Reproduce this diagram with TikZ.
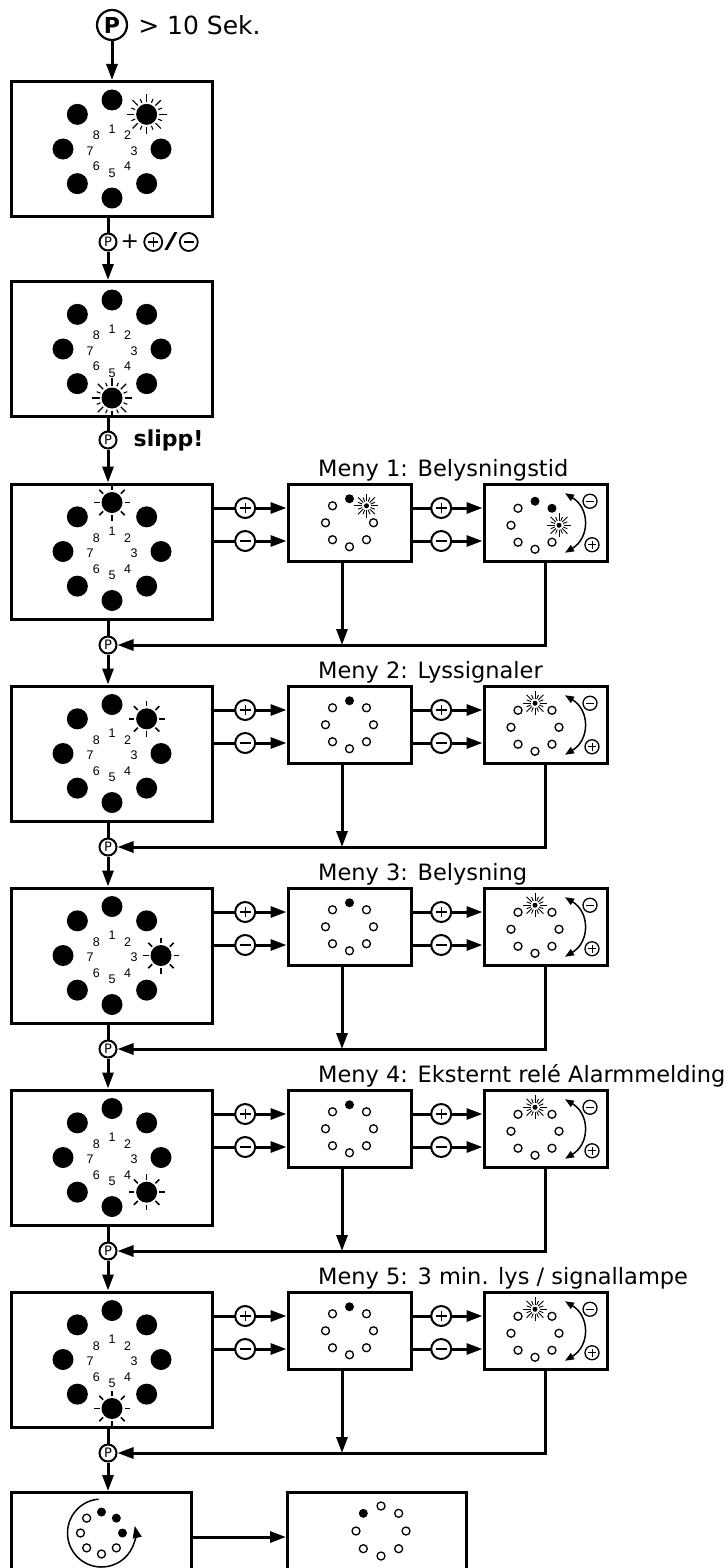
\documentclass[tikz,border=0pt]{standalone}
\usepackage{fontspec}
\setmainfont{DejaVu Sans}
\newfontfamily\digitfont{Liberation Sans}
\usepackage{graphicx}
\usetikzlibrary{arrows.meta,positioning,calc}

\tikzset{
  litray/.style={line width=1.6pt},
  blinkray/.style={line width=1.1pt},
  smallray/.style={line width=0.9pt},
  dialnum/.style={font=\digitfont\fontsize{12.5}{12.5}\selectfont, inner sep=0pt},
}

% stor skive: senter, lysende diode, 0 = lyser / 1 = blinker
\newcommand{\bigdial}[3]{%
  \foreach \i in {1,...,8}{
    \fill ($(#1)+({90-45*(\i-1)}:49pt)$) circle (10.5pt);
    \node[dialnum] (#1n\i) at ($(#1)+({90-45*(\i-1)}:22pt)+(0,-2pt)$) {\i};
  }
  \coordinate (sun) at ($(#1)+({90-45*(#2-1)}:49pt)$);
  \ifnum#3=0
    \foreach \a in {0,45,...,315}
      \draw[litray] ($(sun)+(\a:12.5pt)$) -- ($(sun)+(\a:18pt)$);
  \else
    \foreach \a in {0,45,...,315}
      \draw[blinkray] ($(sun)+(\a:12.5pt)$) -- ($(sun)+(\a:20pt)$);
    \foreach \a in {22.5,67.5,...,337.5}
      \draw[blinkray] ($(sun)+(\a:12.5pt)$) -- ($(sun)+(\a:16.5pt)$);
  \fi
}

% liten ring: radius, senter, liste pos/type (0 av, 1 paa, 2 blinker)
\newcommand{\smallring}[3][24pt]{%
  \foreach \i/\kind in {#3}{
    \coordinate (dot) at ($(#2)+({90-45*(\i-1)}:#1)$);
    \ifcase\kind\relax
      \draw[line width=1.3pt] (dot) circle (4pt);
    \or
      \fill (dot) circle (4.5pt);
    \or
      \fill (dot) circle (2.5pt);
      \foreach \a in {0,45,...,315}
        \draw[smallray] ($(dot)+(\a:4.5pt)$) -- ($(dot)+(\a:12pt)$);
      \foreach \a in {22.5,67.5,...,337.5}
        \draw[smallray] ($(dot)+(\a:4.5pt)$) -- ($(dot)+(\a:9pt)$);
    \fi
  }%
}

\begin{document}
\begin{tikzpicture}[
    x=1pt, y=-1pt,
    >={Triangle[length=16pt,width=11pt]},
    bigbox/.style={draw, line width=3pt, minimum width=201pt, minimum height=135pt, inner sep=0pt},
    smallbox/.style={draw, line width=3pt, minimum width=123pt, minimum height=77pt, inner sep=0pt},
    endbox/.style={draw, line width=3pt, minimum width=180pt, minimum height=89pt, inner sep=0pt},
    conn/.style={->, line width=3pt},
    pbtn/.style={circle, draw, fill=white, line width=2pt, minimum size=17pt, inner sep=0pt, font=\fontsize{13}{13}\selectfont},
    signbtn/.style={circle, draw, fill=white, line width=2pt, minimum size=#1, inner sep=0pt},
    signbtn/.default=20pt,
    plusbtn/.style={signbtn=#1, path picture={
        \draw[-, line width=0.065*#1]
          ([xshift=-0.27*#1]path picture bounding box.center) -- ([xshift=0.27*#1]path picture bounding box.center)
          ([yshift=-0.27*#1]path picture bounding box.center) -- ([yshift=0.27*#1]path picture bounding box.center);}},
    plusbtn/.default=20pt,
    minusbtn/.style={signbtn=#1, path picture={
        \draw[-, line width=0.065*#1]
          ([xshift=-0.27*#1]path picture bounding box.center) -- ([xshift=0.27*#1]path picture bounding box.center);}},
    minusbtn/.default=20pt,
    menylabel/.style={anchor=base west, inner sep=0pt, font=\fontsize{22.5}{27}\selectfont},
    swing/.style={{Triangle[length=9pt,width=7pt]}-{Triangle[length=9pt,width=7pt]}, line width=1.5pt},
  ]
  \path[fill=white, use as bounding box] (0,0) rectangle (726,1568);

  % Start
  \node[pbtn, minimum size=30pt, line width=2.2pt, font=\bfseries\fontsize{22}{22}\selectfont] (p0) at (112,25) {P};
  \node[right=10pt of p0, inner sep=0pt, font=\fontsize{25}{25}\selectfont] (sek) {> 10 Sek.};

  \node[bigbox] (a) at (112,149) {};
  \bigdial{a}{2}{1}
  \draw[conn] (p0) -- (p0 |- a.north);

  \node[pbtn] (pa) at (108,242) {P};
  \node[right=3pt of pa, inner sep=0pt, font=\fontsize{22}{22}\selectfont] (with) {+};
  \node[plusbtn=18pt, line width=1.8pt, right=4pt of with] (plusa) {};
  \node[right=1pt of plusa, inner sep=0pt, font=\fontsize{22}{22}\selectfont] (slash) {\scalebox{1.8}[1]{/}};
  \node[minusbtn=18pt, line width=1.8pt, right=1pt of slash] (minusa) {};
  \draw[line width=3pt] (a.south -| pa) -- (pa);

  \node[bigbox] (b) at (112,349) {};
  \bigdial{b}{5}{1}
  \draw[conn] (pa) -- (pa |- b.north);

  \node[pbtn] (pb) at (108,440) {P};
  \node[right=16pt of pb, inner sep=0pt, font=\bfseries\fontsize{22}{22}\selectfont] (slipp) {slipp!};
  \draw[line width=3pt] (b.south -| pb) -- (pb);

  % Menyer
  \foreach \k/\txt in {1/Belysningstid, 2/Lyssignaler, 3/Belysning, 4/Eksternt relé Alarmmelding, 5/{3 min. lys / signallampe}}{
    \pgfmathsetmacro\dy{202*(\k-1)}
    \node[bigbox] (l\k) at (112,551.5+\dy) {};
    \bigdial{l\k}{\k}{0}
    \node[smallbox] (m\k) at (349.5,522.75+\dy) {};
    \node[smallbox] (r\k) at (545.5,522.75+\dy) {};
    \node[menylabel] (t\k) at (318,476+\dy) {Meny \k: \txt};
    \node[pbtn] (p\k) at (108,645+\dy) {P};
    \draw[line width=3pt] (l\k.south -| p\k) -- (p\k);

    \coordinate (u\k) at ([yshift=14.75pt]m\k.west);
    \coordinate (v\k) at ([yshift=-18.25pt]m\k.west);
    \draw[conn] (l\k.east |- u\k) -- node[plusbtn, pos=0.43] (lp\k) {} (u\k);
    \draw[conn] (l\k.east |- v\k) -- node[minusbtn, pos=0.43] (lm\k) {} (v\k);
    \draw[conn] (m\k.east |- u\k) -- node[plusbtn, pos=0.41] (mp\k) {} (r\k.west |- u\k);
    \draw[conn] (m\k.east |- v\k) -- node[minusbtn, pos=0.41] (mm\k) {} (r\k.west |- v\k);

    % tilbake til P
    \coordinate (d\k) at ([xshift=-7.5pt]m\k.south);
    \draw[conn] (d\k) -- (d\k |- p\k);
    \draw[conn] (r\k.south) |- (p\k);

    \coordinate (mc\k) at (m\k.center);
    \coordinate (rc\k) at ([xshift=-10.5pt,yshift=-2.5pt]r\k.center);
    \ifnum\k=1
      \smallring{mc\k}{1/1,2/2,3/0,4/0,5/0,6/0,7/0,8/0}
      \smallring{rc\k}{1/1,2/1,3/2,4/0,5/0,6/0,7/0,8/0}
    \else
      \smallring{mc\k}{1/1,2/0,3/0,4/0,5/0,6/0,7/0,8/0}
      \smallring{rc\k}{1/2,2/0,3/0,4/0,5/0,6/0,7/0,8/0}
    \fi

    \coordinate (st\k) at ([xshift=19.5pt,yshift=29.5pt]r\k.center);
    \coordinate (sb\k) at ([xshift=19.5pt,yshift=-30pt]r\k.center);
    \draw[swing] (st\k) .. controls +(25pt,-15pt) and +(25pt,15pt) .. (sb\k);
    \node[minusbtn=14pt, line width=1.3pt] (rm\k) at ([xshift=44.5pt,yshift=21.5pt]r\k.center) {};
    \node[plusbtn=14pt, line width=1.3pt] (rp\k) at ([xshift=46.5pt,yshift=-22pt]r\k.center) {};
  }

  \draw[conn] (pb) -- (pb |- l1.north);
  \foreach \k [evaluate=\k as \j using int(\k+1)] in {1,...,4}
    \draw[conn] (p\k) -- (p\k |- l\j.north);

  % Avslutning
  \node[endbox] (fl) at (101.5,1537) {};
  \node[endbox, minimum width=179pt] (fr) at (377,1537) {};
  \draw[conn] (p5) -- (p5 |- fl.north);
  \draw[conn] (fl) -- (fr);

  \coordinate (flc) at ([yshift=4pt]fl.center);
  \smallring[21pt]{flc}{1/1,2/1,3/1,4/0,5/0,6/0,7/0,8/0}
  \draw[line width=1.5pt, -{Triangle[length=12pt,width=9pt]}] ($(flc)+(95:34pt)$) arc[start angle=95, end angle=372, radius=34pt];

  \coordinate (frc) at ([xshift=4pt,yshift=6pt]fr.center);
  \smallring[25pt]{frc}{1/0,2/0,3/0,4/0,5/0,6/0,7/0,8/1}
\end{tikzpicture}
\end{document}
